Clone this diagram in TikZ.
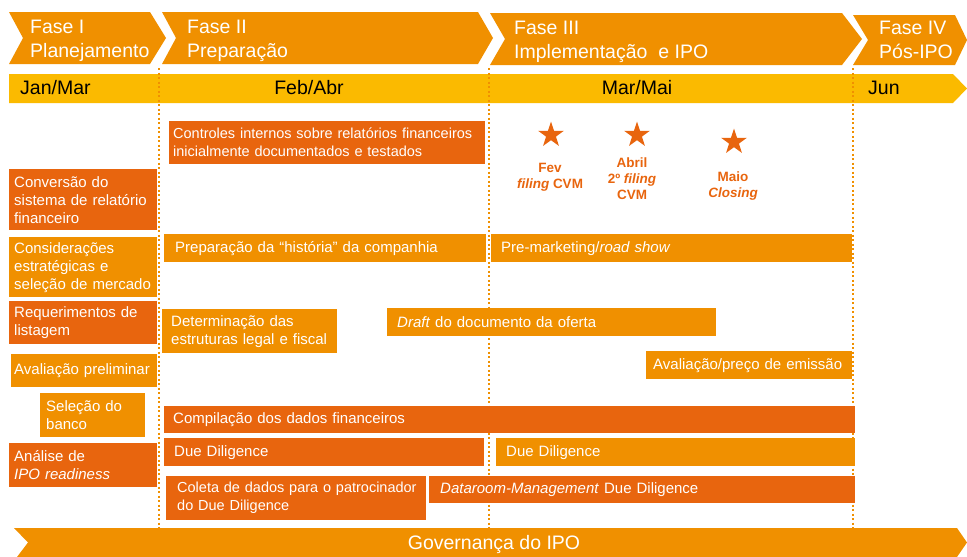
\documentclass[tikz,border=0pt]{standalone}
\usepackage{fontspec}
\setmainfont{Liberation Sans}
\usetikzlibrary{shapes.geometric}
\definecolor{ipodark}{RGB}{232,101,14}
\definecolor{ipolight}{RGB}{240,144,0}
\definecolor{ipoyellow}{RGB}{251,186,0}
\begin{document}
\begin{tikzpicture}[x=1pt,y=-1pt,
    phasetext/.style={text=white, anchor=north west, inner sep=0, align=left, font=\fontsize{19.5}{24}\selectfont},
    monthtext/.style={text=black, inner sep=0, font=\fontsize{19.5}{24}\selectfont},
    guide/.style={ipolight, line width=2pt, dash pattern=on 2pt off 2.5pt},
    darkbar/.style={fill=ipodark, text=white, anchor=north west, inner ysep=0, align=left, font=\fontsize{15}{18}\selectfont},
    lightbar/.style={darkbar, fill=ipolight},
    smalltext/.style={font=\fontsize{14.5}{18}\selectfont},
    milestone/.style={star, star points=5, star point ratio=2.6, fill=ipodark, inner sep=0, minimum size=27pt},
    milestonetext/.style={text=ipodark, anchor=north, inner sep=0, align=center, font=\bfseries\fontsize{13.5}{16}\selectfont}]
\useasboundingbox (0,0) rectangle (967,557);
% phases
    \fill [ipolight] (9,12) -- (150,12) -- (166,38) -- (150,64) -- (9,64) -- (23,38) -- cycle;
    \fill [ipolight] (162,12) -- (478,12) -- (493,38) -- (478,64) -- (162,64) -- (176,38) -- cycle;
    \fill [ipolight] (490,13) -- (842,13) -- (862,39) -- (842,65) -- (490,65) -- (505,39) -- cycle;
    \fill [ipolight] (853,15) -- (955,15) -- (967,40) -- (955,65) -- (853,65) -- (868,40) -- cycle;
    \node [phasetext] (fase1) at (30,20) {Fase I\\Planejamento};
    \node [phasetext] (fase2) at (187,20) {Fase II\\Preparação};
    \node [phasetext] (fase3) at (514,21) {Fase III\\Implementação~ e IPO};
    \node [phasetext] (fase4) at (879,21) {Fase IV\\Pós-IPO};
% months
    \fill [ipoyellow] (9,74) -- (953,74) -- (967,88.5) -- (953,103) -- (9,103) -- cycle;
    \node [monthtext, anchor=base west] (janmar) at (20,94) {Jan/Mar};
    \node [monthtext, anchor=base] (febabr) at (309,94) {Feb/Abr};
    \node [monthtext, anchor=base] (marmai) at (637,94) {Mar/Mai};
    \node [monthtext, anchor=base west] (jun) at (868,94) {Jun};
    \draw [guide] (159,68) -- (159,528);
    \draw [guide] (489,68) -- (489,528);
    \draw [guide] (853,68) -- (853,528);
% Fase I
    \node [darkbar, inner xsep=5pt, text width=138pt, minimum height=61pt] (conversao) at (9,169) {Conversão do\\sistema de relatório\\financeiro};
    \node [lightbar, inner xsep=5pt, text width=138pt, minimum height=60pt] (consideracoes) at (9,237) {Considerações\\estratégicas e\\seleção de mercado};
    \node [darkbar, inner xsep=5pt, text width=138pt, minimum height=43pt] (requerimentos) at (9,301) {Requerimentos de\\listagem};
    \node [lightbar, inner xsep=3pt, text width=140pt, minimum height=33pt] (avaliacao) at (11,354) {Avaliação preliminar};
    \node [lightbar, inner xsep=6pt, text width=93pt, minimum height=44pt] (banco) at (40,393) {Seleção do\\banco};
    \node [darkbar, inner xsep=5pt, text width=138pt, minimum height=44pt] (readiness) at (9,443) {Análise de\\\textit{IPO readiness}};
% Fase II - IV
    \node [darkbar, smalltext, inner xsep=4pt, text width=308pt, minimum height=43pt] (controles) at (169,121) {\mbox{Controles internos sobre relatórios financeiros}\\inicialmente documentados e testados};
    \node [lightbar, inner xsep=11pt, text width=300pt, minimum height=28pt] (historia) at (164,234) {Preparação da “história” da companhia};
    \node [lightbar, inner xsep=10pt, text width=341pt, minimum height=28pt] (premarketing) at (491,234) {Pre-marketing/\textit{road show}};
    \node [lightbar, inner xsep=9pt, text width=157pt, minimum height=44pt] (estruturas) at (162,309) {Determinação das\\estruturas legal e fiscal};
    \node [lightbar, inner xsep=10pt, text width=309pt, minimum height=28pt] (draft) at (387,308) {\textit{Draft} do documento da oferta};
    \node [lightbar, inner xsep=7pt, text width=192pt, minimum height=28pt] (preco) at (646,351) {Avaliação/preço de emissão};
    \node [darkbar, inner xsep=9pt, text width=673pt, minimum height=27pt] (compilacao) at (164,406) {Compilação dos dados financeiros};
    \node [darkbar, inner xsep=10pt, text width=300pt, minimum height=28pt] (duediligence1) at (164,438) {Due Diligence};
    \node [lightbar, inner xsep=10pt, text width=339pt, minimum height=28pt] (duediligence2) at (496,438) {Due Diligence};
    \node [darkbar, smalltext, inner xsep=11pt, text width=238pt, minimum height=44pt] (coleta) at (166,476) {\mbox{Coleta de dados para o patrocinador}\\do Due Diligence};
    \node [darkbar, inner xsep=11pt, text width=404pt, minimum height=27pt] (dataroom) at (429,476) {\textit{Dataroom-Management} Due Diligence};
% milestones
    \node [milestone] (fev) at (551,135) {};
    \node [milestone] (abril) at (637,135) {};
    \node [milestone] (maio) at (734,142) {};
    \node [milestonetext] (fevtext) at (550,163) {Fev\\\textit{filing} CVM};
    \node [milestonetext] (abriltext) at (632,158) {Abril\\2º \textit{filing}\\CVM};
    \node [milestonetext] (maiotext) at (733,172) {Maio\\\textit{Closing}};
% governance
    \fill [ipolight] (14,528) -- (957,528) -- (967,542.5) -- (957,557) -- (17,557) -- (28,542.5) -- cycle;
    \node [monthtext, text=white, anchor=base] (governanca) at (494,549) {Governança do IPO};
\end{tikzpicture}
\end{document}
